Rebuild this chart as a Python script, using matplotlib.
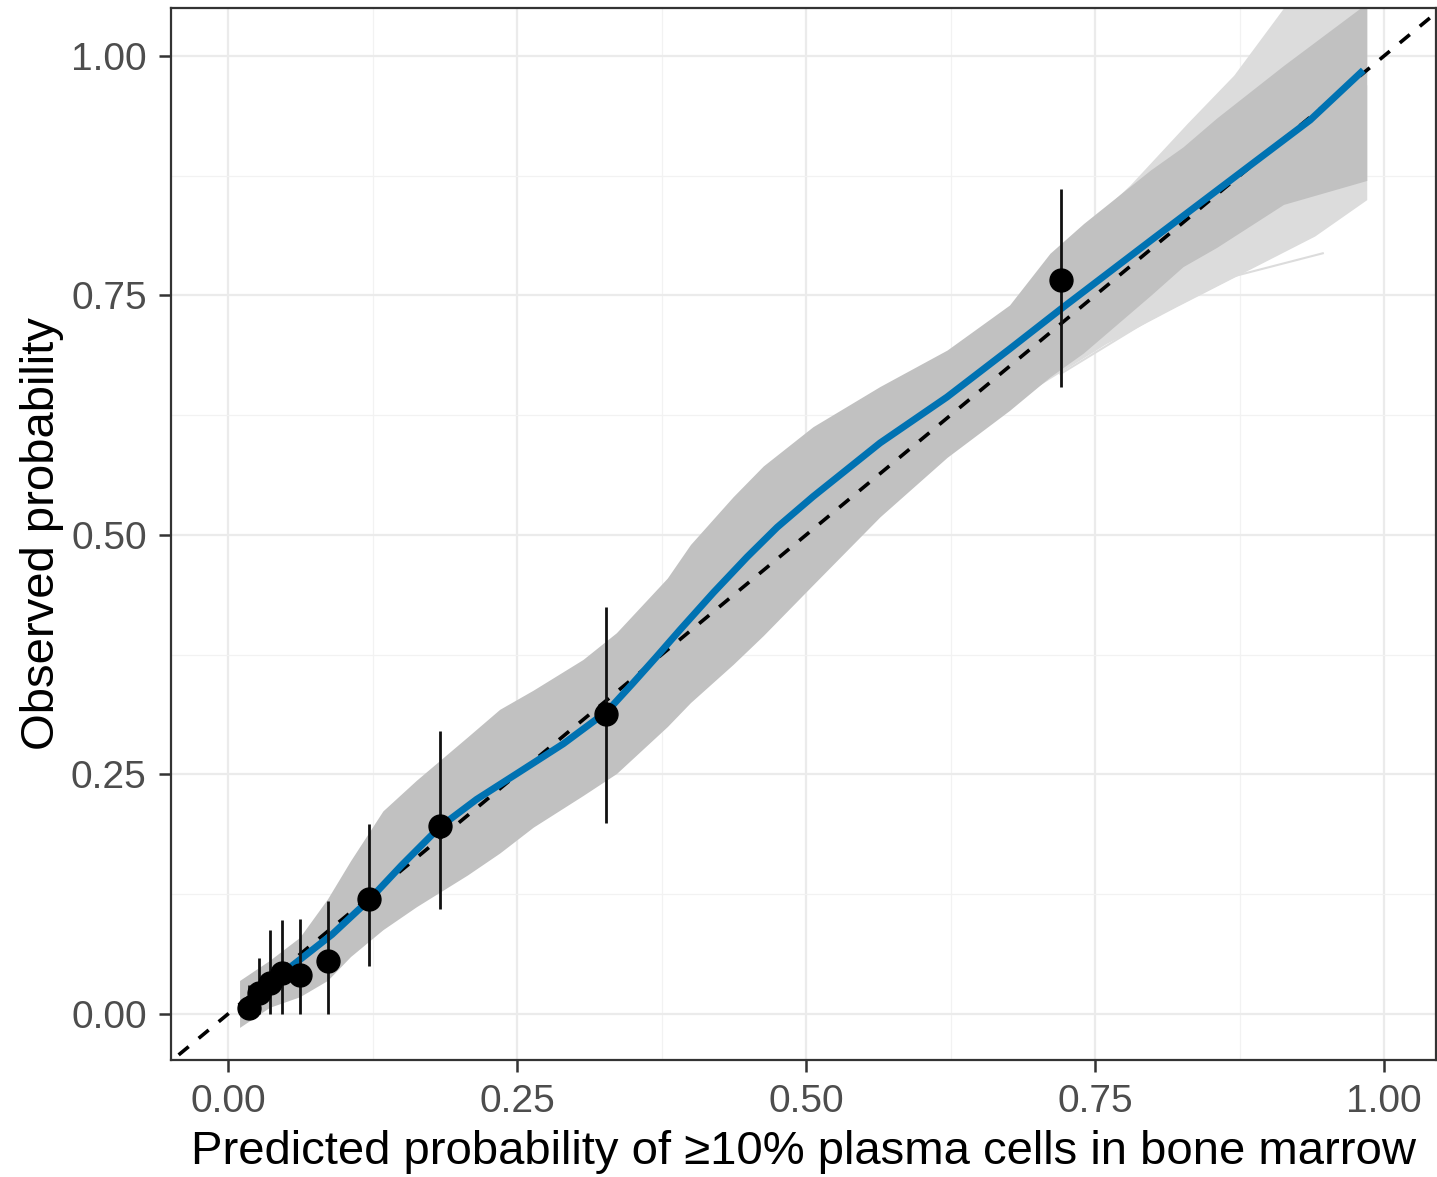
import matplotlib
matplotlib.use("Agg")
import matplotlib.pyplot as plt
from matplotlib.ticker import MultipleLocator

# --- grouped observed proportions (points with 95% CI) ----------------------
pred_grp = [0.018, 0.027, 0.036, 0.047, 0.062, 0.0865, 0.122, 0.183, 0.327, 0.7206]
obs_grp = [0.006, 0.022, 0.032, 0.043, 0.041, 0.055, 0.120, 0.196, 0.313, 0.766]
ci_low = [0.000, 0.000, 0.000, 0.000, 0.000, 0.000, 0.050, 0.110, 0.199, 0.654]
ci_high = [0.030, 0.058, 0.088, 0.098, 0.099, 0.118, 0.198, 0.295, 0.425, 0.861]

# --- smoothed calibration curve ---------------------------------------------
curve_x = [0.054, 0.090, 0.122, 0.150, 0.183, 0.215, 0.250, 0.290, 0.328,
           0.350, 0.370, 0.391, 0.420, 0.449, 0.475, 0.506, 0.564, 0.622,
           0.676, 0.7206, 0.800, 0.880, 0.936, 0.982]
curve_y = [0.049, 0.083, 0.119, 0.155, 0.195, 0.224, 0.251, 0.282, 0.316,
           0.345, 0.372, 0.401, 0.440, 0.477, 0.508, 0.540, 0.596, 0.644,
           0.694, 0.736, 0.809, 0.882, 0.933, 0.985]

# --- bootstrap band (dense envelope) ----------------------------------------
band_x = [0.010, 0.036, 0.062, 0.086, 0.106, 0.134, 0.163, 0.207, 0.235,
          0.264, 0.307, 0.336, 0.380, 0.400, 0.437, 0.463, 0.506, 0.564,
          0.622, 0.676, 0.711, 0.740, 0.798, 0.826, 0.855, 0.913, 0.985]
band_lo = [-0.014, 0.007, 0.018, 0.035, 0.060, 0.088, 0.112, 0.145, 0.168,
           0.195, 0.228, 0.251, 0.300, 0.325, 0.365, 0.395, 0.448, 0.519,
           0.581, 0.630, 0.665, 0.690, 0.750, 0.780, 0.800, 0.845, 0.870]
band_hi = [0.035, 0.056, 0.080, 0.120, 0.160, 0.212, 0.244, 0.289, 0.318,
           0.338, 0.370, 0.398, 0.455, 0.490, 0.540, 0.572, 0.613, 0.655,
           0.693, 0.740, 0.794, 0.825, 0.881, 0.905, 0.935, 0.990, 1.055]

# --- wider bootstrap fringe (lighter curves) --------------------------------
fringe_hi_x = [0.70, 0.78, 0.83, 0.87, 0.913, 0.985]
fringe_hi = [0.775, 0.865, 0.930, 0.980, 1.050, 1.100]
fringe_lo_x = [0.70, 0.76, 0.82, 0.88, 0.94, 0.985]
fringe_lo = [0.655, 0.700, 0.738, 0.775, 0.812, 0.850]
lowest_x = [0.72, 0.80, 0.87, 0.947]
lowest_y = [0.668, 0.727, 0.770, 0.794]

TICKS = [0.00, 0.25, 0.50, 0.75, 1.00]
TICK_LABELS = ["0.00", "0.25", "0.50", "0.75", "1.00"]

plt.rcParams["font.family"] = ["Liberation Sans", "DejaVu Sans"]

fig = plt.figure(figsize=(14.37, 11.77), dpi=100)
ax = fig.add_axes([171 / 1437, 1 - 1060 / 1177, 1265 / 1437, 1052 / 1177])

ax.set_xlim(-0.0493, 1.0449)
ax.set_ylim(-0.048, 1.050)

# grid like theme_bw
ax.set_axisbelow(True)
ax.xaxis.set_minor_locator(MultipleLocator(0.125))
ax.yaxis.set_minor_locator(MultipleLocator(0.125))
ax.grid(which="major", color="#EBEBEB", linewidth=1.6)
ax.grid(which="minor", color="#F2F2F2", linewidth=0.9)

# bootstrap curves
ax.fill_between(fringe_hi_x, [v - 0.12 for v in fringe_hi], fringe_hi,
                color="#DCDCDC", linewidth=0, zorder=1)
ax.fill_between(fringe_lo_x, fringe_lo, [v + 0.12 for v in fringe_lo],
                color="#DCDCDC", linewidth=0, zorder=1)
ax.plot(lowest_x, lowest_y, color="#DCDCDC", linewidth=1.5, zorder=1)
ax.fill_between(band_x, band_lo, band_hi, color="#C1C1C1", linewidth=0, zorder=2)

# ideal calibration
ax.plot([-0.06, 1.06], [-0.06, 1.06], color="black", linewidth=2.6,
        linestyle=(0, (3.6, 3.6)), zorder=3)

# smoothed curve
ax.plot(curve_x, curve_y, color="#0072B2", linewidth=5, solid_capstyle="butt", zorder=4)

# grouped points with CI
ax.vlines(pred_grp, ci_low, ci_high, color="#111111", linewidth=2, zorder=5)
ax.plot(pred_grp, obs_grp, "o", color="black", markersize=16.5, zorder=6)

ax.set_xticks(TICKS)
ax.set_xticklabels(TICK_LABELS)
ax.set_yticks(TICKS)
ax.set_yticklabels(TICK_LABELS)
ax.tick_params(which="major", length=8.5, width=1.8, color="#333333",
               labelsize=28, labelcolor="#4D4D4D", pad=9)
ax.tick_params(which="minor", length=0)

for s in ax.spines.values():
    s.set_color("#333333")
    s.set_linewidth(1.6)

ax.set_xlabel("Predicted probability of \u226510% plasma cells in bone marrow",
              fontsize=34, labelpad=7)
ax.set_ylabel("Observed probability", fontsize=34, labelpad=5)

fig.savefig("out.png", dpi=100)
